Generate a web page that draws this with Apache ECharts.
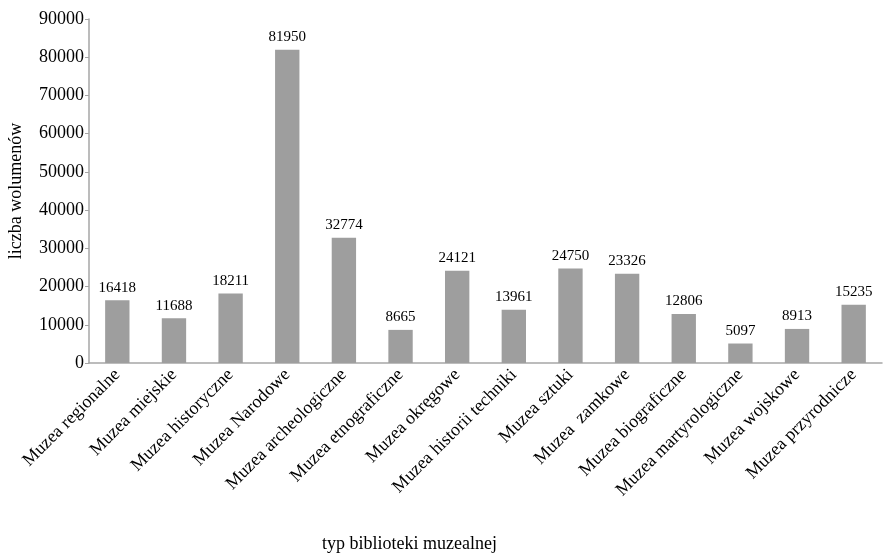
<!DOCTYPE html>
<html>
<head>
<meta charset="utf-8">
<script src="https://cdn.jsdelivr.net/npm/echarts@6/dist/echarts.min.js"></script>
<style>
  html, body { margin: 0; padding: 0; background: #fff; }
  #main { width: 883px; height: 554px; }
</style>
</head>
<body>
<div id="main"></div>
<script>
var categories = ['Muzea regionalne', 'Muzea miejskie', 'Muzea historyczne', 'Muzea Narodowe',
  'Muzea archeologiczne', 'Muzea etnograficzne', 'Muzea okręgowe', 'Muzea historii techniki',
  'Muzea sztuki', 'Muzea  zamkowe', 'Muzea biograficzne', 'Muzea martyrologiczne',
  'Muzea wojskowe', 'Muzea przyrodnicze'];
var volumes = [16418, 11688, 18211, 81950, 32774, 8665, 24121, 13961, 24750, 23326, 12806, 5097, 8913, 15235];

var font = '"Liberation Serif", "Times New Roman", serif';
var chart = echarts.init(document.getElementById('main'));

var option = {
  animation: false,
  grid: { left: 89, right: 1, top: 19, bottom: 191, containLabel: false, outerBoundsMode: 'none' },
  xAxis: {
    type: 'category',
    data: categories,
    axisLine: { lineStyle: { color: '#a6a6a6', width: 1.5 } },
    axisTick: { show: false },
    axisLabel: {
      rotate: 45,
      interval: 0,
      margin: 9,
      color: '#000',
      fontFamily: font,
      fontSize: 18
    }
  },
  yAxis: {
    type: 'value',
    min: 0,
    max: 90000,
    interval: 10000,
    name: 'liczba wolumenów',
    nameLocation: 'middle',
    nameRotate: 90,
    nameGap: 64,
    nameTextStyle: { color: '#000', fontFamily: font, fontSize: 18 },
    axisLine: { show: true, lineStyle: { color: '#a6a6a6', width: 1.5 } },
    axisTick: { show: true, length: 4, lineStyle: { color: '#a6a6a6' } },
    splitLine: { show: false },
    axisLabel: {
      color: '#000',
      fontFamily: font,
      fontSize: 18,
      margin: 5,
      formatter: function (v) { return String(v); }
    }
  },
  series: [{
    type: 'bar',
    data: volumes,
    barWidth: '43%',
    itemStyle: { color: '#9e9e9e' },
    label: {
      show: true,
      position: 'top',
      distance: 5,
      color: '#000',
      fontFamily: font,
      fontSize: 15
    }
  }],
  graphic: [{
    type: 'text',
    left: 322,
    top: 535,
    style: {
      text: 'typ biblioteki muzealnej',
      fill: '#000',
      font: '18px ' + font
    }
  }]
};
chart.setOption(option);
</script>
</body>
</html>
